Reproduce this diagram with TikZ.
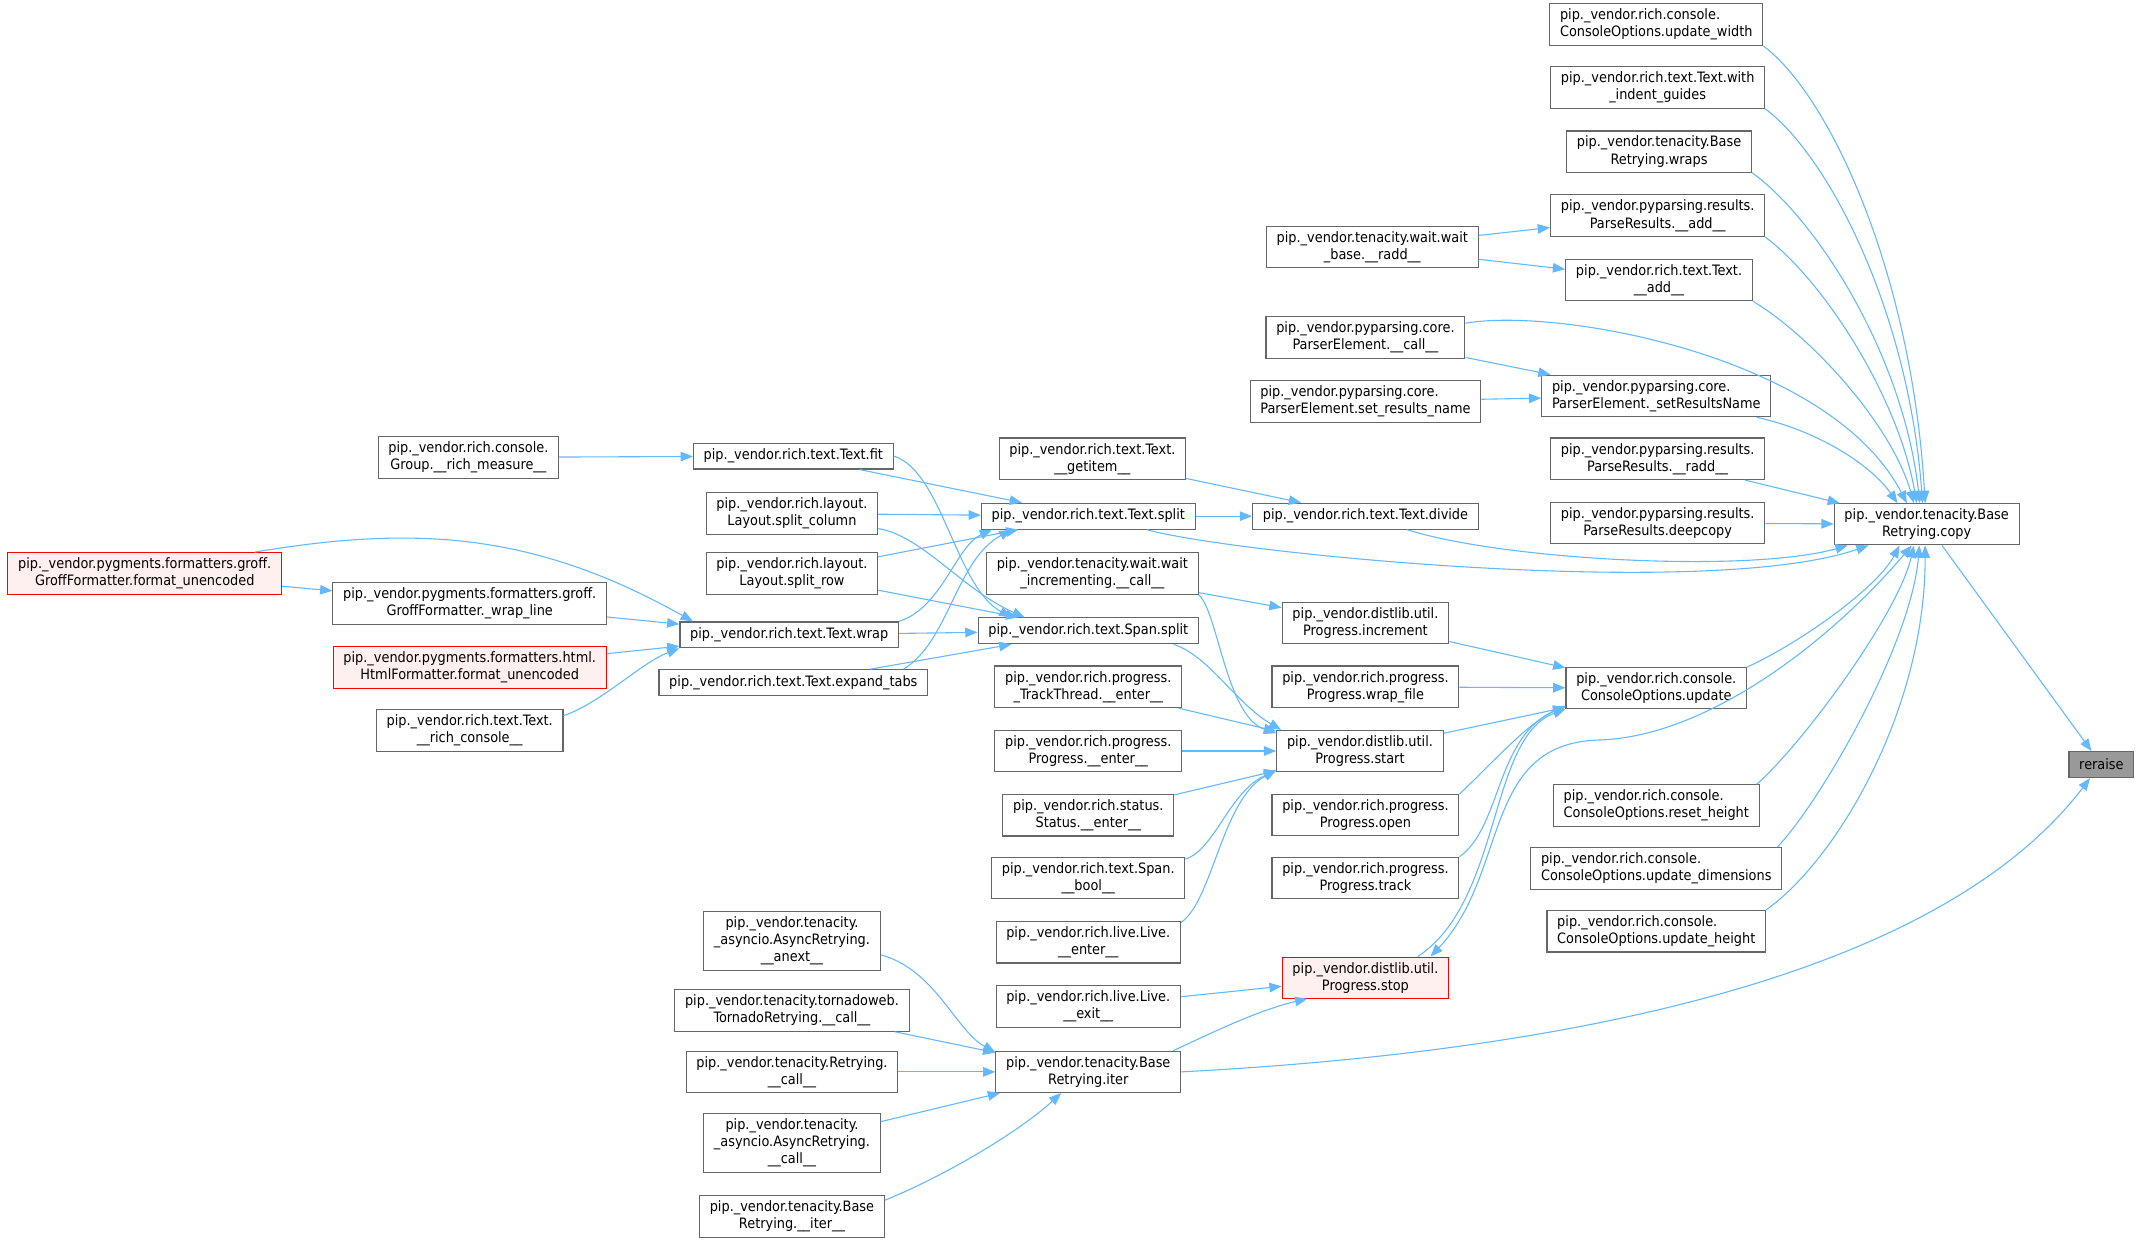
\documentclass[tikz,border=0pt]{standalone}
\usepackage{fontspec}
\setmainfont{DejaVu Sans Condensed}
\usetikzlibrary{arrows.meta}

\definecolor{bordo}{HTML}{666666}
\definecolor{celeste}{HTML}{63B8FF}
\definecolor{rosa}{HTML}{FFF0F0}
\definecolor{grigio}{HTML}{999999}

\begin{document}
\begin{tikzpicture}[x=1pt, y=1pt,
  every node/.style={rectangle, draw=bordo, line width=0.8pt, fill=white, align=center,
    font=\fontsize{10.5}{12.5}\selectfont, inner xsep=7.5pt, inner ysep=3.75pt, minimum height=19pt},
  troncato/.style={draw=red, fill=rosa},
  corrente/.style={fill=grigio},
  sinistra/.style={align=left},
  freccia/.style={draw=celeste, line width=0.8pt, -{Triangle[length=9pt,width=7pt]}}]

\useasboundingbox (0,0) rectangle (1568,-910);

% Posizioni dei nodi
\node[corrente] (reraise) at (1539,-560) {reraise};
\node (copy) at (1411,-384) {pip.\_vendor.tenacity.Base\\Retrying.copy};

\node[sinistra] (upd_width) at (1213,-18) {pip.\_vendor.rich.console.\\ConsoleOptions.update\_width};
\node (indent) at (1214,-64) {pip.\_vendor.rich.text.Text.with\\\_indent\_guides};
\node (wraps) at (1215,-111) {pip.\_vendor.tenacity.Base\\Retrying.wraps};
\node (pr_add) at (1214,-158) {pip.\_vendor.pyparsing.results.\\ParseResults.\_\_add\_\_};
\node (text_add) at (1215,-205) {pip.\_vendor.rich.text.Text.\\\_\_add\_\_};
\node[sinistra] (set_rn) at (1213,-290) {pip.\_vendor.pyparsing.core.\\ParserElement.\_setResultsName};
\node (pr_radd) at (1214,-336) {pip.\_vendor.pyparsing.results.\\ParseResults.\_\_radd\_\_};
\node (deepcopy) at (1214,-383) {pip.\_vendor.pyparsing.results.\\ParseResults.deepcopy};
\node (co_update) at (1213,-504) {pip.\_vendor.rich.console.\\ConsoleOptions.update};
\node[sinistra] (reset_height) at (1213,-590) {pip.\_vendor.rich.console.\\ConsoleOptions.reset\_height};
\node[sinistra] (upd_dims) at (1213,-636) {pip.\_vendor.rich.console.\\ConsoleOptions.update\_dimensions};
\node[sinistra] (upd_height) at (1213,-682) {pip.\_vendor.rich.console.\\ConsoleOptions.update\_height};

\node (wait_radd) at (1005,-181) {pip.\_vendor.tenacity.wait.wait\\\_base.\_\_radd\_\_};
\node (pe_call) at (1000,-247) {pip.\_vendor.pyparsing.core.\\ParserElement.\_\_call\_\_};
\node[sinistra] (set_results) at (1000,-294) {pip.\_vendor.pyparsing.core.\\ParserElement.set\_results\_name};
\node (divide) at (1000,-378) {pip.\_vendor.rich.text.Text.divide};
\node (increment) at (1000,-456) {pip.\_vendor.distlib.util.\\Progress.increment};
\node (wrap_file) at (1000,-503) {pip.\_vendor.rich.progress.\\Progress.wrap\_file};
\node (start) at (996,-550) {pip.\_vendor.distlib.util.\\Progress.start};
\node (open) at (1000,-597) {pip.\_vendor.rich.progress.\\Progress.open};
\node (track) at (1000,-643) {pip.\_vendor.rich.progress.\\Progress.track};
\node[troncato] (stop) at (1000,-716) {pip.\_vendor.distlib.util.\\Progress.stop};

\node (getitem) at (800,-336) {pip.\_vendor.rich.text.Text.\\\_\_getitem\_\_};
\node (text_split) at (797,-378) {pip.\_vendor.rich.text.Text.split};
\node (wait_incr) at (800,-420) {pip.\_vendor.tenacity.wait.wait\\\_incrementing.\_\_call\_\_};
\node (span_split) at (797,-462) {pip.\_vendor.rich.text.Span.split};
\node (track_enter) at (797,-503) {pip.\_vendor.rich.progress.\\\_TrackThread.\_\_enter\_\_};
\node (prog_enter) at (797,-550) {pip.\_vendor.rich.progress.\\Progress.\_\_enter\_\_};
\node (status_enter) at (797,-597) {pip.\_vendor.rich.status.\\Status.\_\_enter\_\_};
\node (span_bool) at (797,-643) {pip.\_vendor.rich.text.Span.\\\_\_bool\_\_};
\node (live_enter) at (797,-690) {pip.\_vendor.rich.live.Live.\\\_\_enter\_\_};
\node (live_exit) at (797,-737) {pip.\_vendor.rich.live.Live.\\\_\_exit\_\_};
\node (iter) at (797,-785) {pip.\_vendor.tenacity.Base\\Retrying.iter};

\node (text_fit) at (581,-334) {pip.\_vendor.rich.text.Text.fit};
\node (split_column) at (580,-376) {pip.\_vendor.rich.layout.\\Layout.split\_column};
\node (split_row) at (580,-420) {pip.\_vendor.rich.layout.\\Layout.split\_row};
\node (text_wrap) at (578,-465) {pip.\_vendor.rich.text.Text.wrap};
\node (expand_tabs) at (581,-500) {pip.\_vendor.rich.text.Text.expand\_tabs};
\node (anext) at (580,-689) {pip.\_vendor.tenacity.\\\_asyncio.AsyncRetrying.\\\_\_anext\_\_};
\node (tornado) at (580,-740) {pip.\_vendor.tenacity.tornadoweb.\\TornadoRetrying.\_\_call\_\_};
\node (retry_call) at (580,-785) {pip.\_vendor.tenacity.Retrying.\\\_\_call\_\_};
\node (async_call) at (580,-837) {pip.\_vendor.tenacity.\\\_asyncio.AsyncRetrying.\\\_\_call\_\_};
\node (base_iter) at (580,-891) {pip.\_vendor.tenacity.Base\\Retrying.\_\_iter\_\_};

\node (rich_measure) at (343,-335) {pip.\_vendor.rich.console.\\Group.\_\_rich\_measure\_\_};
\node (wrap_line) at (344,-442) {pip.\_vendor.pygments.formatters.groff.\\GroffFormatter.\_wrap\_line};
\node[troncato] (html_fmt) at (344,-489) {pip.\_vendor.pygments.formatters.html.\\HtmlFormatter.format\_unencoded};
\node (rich_console) at (344,-535) {pip.\_vendor.rich.text.Text.\\\_\_rich\_console\_\_};

\node[troncato] (groff_fmt) at (106,-420) {pip.\_vendor.pygments.formatters.groff.\\GroffFormatter.format\_unencoded};

% Archi
\draw[freccia] (copy) -- (reraise);
\draw[freccia] (iter.east) .. controls (1150,-770) and (1420,-715) .. (reraise.-130);

\draw[freccia] (upd_width.south east) .. controls (1340,-70) and (1400,-200) .. (copy.94);
\draw[freccia] (indent.south east) .. controls (1340,-115) and (1398,-230) .. (copy.101);
\draw[freccia] (wraps.south east) .. controls (1330,-160) and (1394,-260) .. (copy.108);
\draw[freccia] (pr_add.south east) .. controls (1335,-205) and (1390,-290) .. (copy.115);
\draw[freccia] (text_add.south east) .. controls (1325,-245) and (1385,-310) .. (copy.121);
\draw[freccia] (pe_call.8) .. controls (1140,-225) and (1340,-260) .. (copy.133);
\draw[freccia] (set_rn.-12) .. controls (1330,-315) and (1370,-340) .. (copy.144);
\draw[freccia] (pr_radd) -- (copy);
\draw[freccia] (deepcopy) -- (copy);
\draw[freccia] (divide.-18) .. controls (1100,-410) and (1280,-420) .. (copy.-165);
\draw[freccia] (text_split.-13) .. controls (900,-405) and (1250,-440) .. (copy.-160);
\draw[freccia] (co_update.north east) .. controls (1320,-470) and (1375,-430) .. (copy.-142);
\draw[freccia] (reset_height.12) .. controls (1320,-545) and (1390,-450) .. (copy.-121);
\draw[freccia] (upd_dims.10) .. controls (1335,-585) and (1400,-470) .. (copy.-109);
\draw[freccia] (upd_height.11) .. controls (1345,-630) and (1410,-520) .. (copy.-94);
\draw[freccia, {Triangle[length=9pt,width=7pt]}-{Triangle[length=9pt,width=7pt]}] (stop.18) .. controls (1105,-640) and (1085,-545) .. (1170,-542) .. controls (1250,-540) and (1340,-470) .. (copy.-125);

\draw[freccia] (wait_radd) -- (pr_add);
\draw[freccia] (wait_radd) -- (text_add);
\draw[freccia] (pe_call) -- (set_rn);
\draw[freccia] (set_results) -- (set_rn);
\draw[freccia] (getitem) -- (divide);
\draw[freccia] (text_split) -- (divide);

\draw[freccia] (increment) -- (co_update);
\draw[freccia] (wrap_file) -- (co_update);
\draw[freccia] (start) -- (co_update);
\draw[freccia] (open.north east) .. controls (1092,-560) and (1118,-530) .. (co_update.-169);
\draw[freccia] (track.north east) .. controls (1100,-605) and (1095,-540) .. (co_update.-169);
\draw[freccia] (stop.22) .. controls (1100,-660) and (1090,-540) .. (co_update.-167);

\draw[freccia] (wait_incr) -- (increment);
\draw[freccia] (wait_incr.south east) .. controls (892,-448) and (898,-525) .. (start.168);
\draw[freccia] (span_split.-9) .. controls (885,-480) and (905,-515) .. (start.165);
\draw[freccia] (track_enter) -- (start);
\draw[freccia] (prog_enter) -- (start);
\draw[freccia] (status_enter) -- (start);
\draw[freccia] (span_bool.11) .. controls (890,-622) and (900,-580) .. (start.-167);
\draw[freccia] (live_enter.12) .. controls (888,-660) and (895,-585) .. (start.-167);

\draw[freccia] (text_fit) -- (text_split);
\draw[freccia] (split_column) -- (text_split);
\draw[freccia] (split_row) -- (text_split);
\draw[freccia] (text_wrap.north east) .. controls (690,-445) and (700,-400) .. (text_split.-172);
\draw[freccia] (expand_tabs.7) .. controls (695,-470) and (700,-410) .. (text_split.-170);
\draw[freccia] (text_fit.east) .. controls (690,-345) and (700,-430) .. (span_split.170);
\draw[freccia] (split_column.-10) .. controls (675,-392) and (705,-432) .. (span_split.168);
\draw[freccia] (split_row) -- (span_split);
\draw[freccia] (text_wrap) -- (span_split);
\draw[freccia] (expand_tabs) -- (span_split);

\draw[freccia] (rich_measure) -- (text_fit);
\draw[freccia] (groff_fmt) -- (wrap_line);
\draw[freccia] (groff_fmt.11) .. controls (307,-384) and (393,-391) .. (text_wrap.172);
\draw[freccia] (wrap_line) -- (text_wrap);
\draw[freccia] (html_fmt) -- (text_wrap);
\draw[freccia] (rich_console.9) .. controls (440,-515) and (470,-485) .. (text_wrap.-173);

\draw[freccia] (anext.-9) .. controls (685,-710) and (700,-755) .. (iter.168);
\draw[freccia] (tornado) -- (iter);
\draw[freccia] (retry_call) -- (iter);
\draw[freccia] (async_call) -- (iter);
\draw[freccia] (base_iter.10) .. controls (690,-862) and (745,-830) .. (iter.-142);
\draw[freccia] (live_exit) -- (stop);
\draw[freccia] (iter.14) .. controls (880,-760) and (920,-740) .. (stop.-160);

\end{tikzpicture}
\end{document}
